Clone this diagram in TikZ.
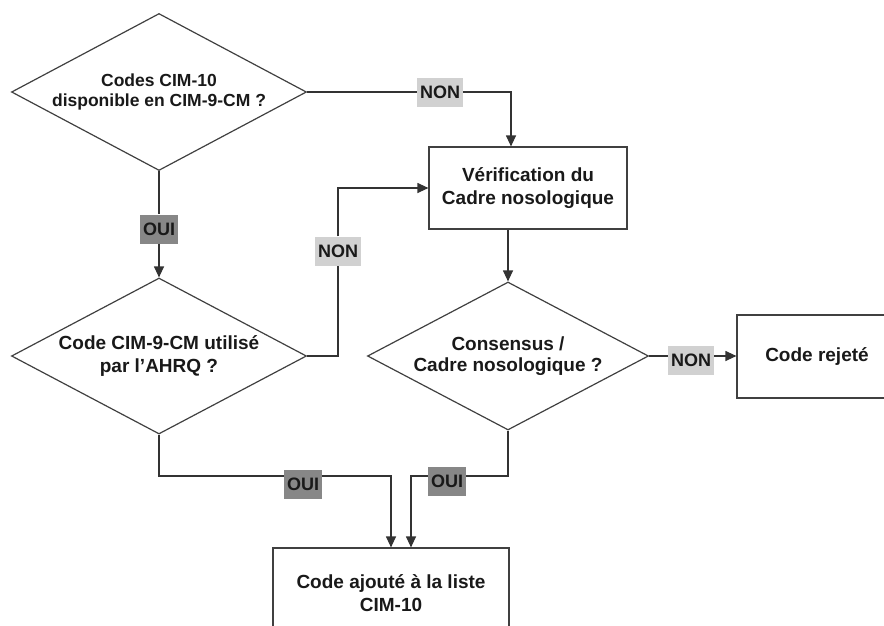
\documentclass[tikz,border=0pt]{standalone}
\usepackage{fontspec}
\setmainfont{Liberation Sans}
\usetikzlibrary{shapes.geometric,arrows.meta}

\begin{document}
\begin{tikzpicture}[x=1pt,y=-1pt]
                        \tikzstyle{every node}=[font=\bfseries\fontsize{19}{22.5}\selectfont, text=black!90]
                        \tikzstyle{decision}=[diamond, draw=black!75, line width=1.2pt, inner sep=0pt, align=center]
                        \tikzstyle{block}=[rectangle, draw=black!75, line width=1.2pt, align=center]
                        \tikzstyle{non}=[fill=black!18, font=\bfseries\fontsize{18}{20}\selectfont, inner xsep=3pt, minimum height=29pt]
                        \tikzstyle{oui}=[fill=black!47, font=\bfseries\fontsize{18}{20}\selectfont, inner xsep=3pt, minimum height=29pt]
                        \tikzstyle{conn}=[draw=black!80, line width=1.2pt]
                        \tikzstyle{arr}=[conn, -{Triangle[length=11pt,width=10pt]}]
                        \clip (0,0) rectangle (884,625);
                        \node[decision, aspect=1.88, minimum width=295pt, minimum height=157pt, font=\bfseries\fontsize{17.5}{19.5}\selectfont] (q1) at (159,92) {Codes CIM-10\\disponible en CIM-9-CM ?};
                        \node[decision, aspect=1.88, minimum width=295pt, minimum height=156pt] (q2) at (159,356) {Code CIM-9-CM utilisé\\par l'AHRQ ?};
                        \node[decision, aspect=1.9, minimum width=281pt, minimum height=148pt, font=\bfseries\fontsize{19}{21}\selectfont] (q3) at (508,356) {Consensus /\\Cadre nosologique ?};
                        \node[block, minimum width=198pt, minimum height=82pt] (verif) at (528,188) {Vérification du\\Cadre nosologique};
                        \node[block, minimum width=160pt, minimum height=83pt] (rejet) at (817,356.5) {Code rejeté};
                        \node[block, minimum width=236pt, minimum height=90pt] (ajout) at (391,593) {Code ajouté à la liste\\CIM-10};
                        \node[non] (non1) at (440,92) {NON};
                        \node[oui] (oui1) at (159,229) {OUI};
                        \node[non] (non2) at (338,251) {NON};
                        \node[non] (non3) at (691,360) {NON};
                        \node[oui] (oui2) at (303,484) {OUI};
                        \node[oui] (oui3) at (447,481) {OUI};
                        \coordinate (j1) at (159,476);
                        \coordinate (j2) at (508,476);
                        \draw[conn] (q1.east) -- (non1.west);
                        \draw[arr] (non1.east) -| ([xshift=-17pt]verif.north);
                        \draw[conn] (q1.south) -- (oui1.north);
                        \draw[arr] (oui1.south) -- (q2.north);
                        \draw[conn] (q2.east) -| (non2.south);
                        \draw[arr] (non2.north) |- (verif.west);
                        \draw[arr] (verif.south -| q3.north) -- (q3.north);
                        \draw[conn] (q3.east) -- (q3.east -| non3.west);
                        \draw[arr] (q3.east -| non3.east) -- (q3.east -| rejet.west);
                        \draw[conn] (q2.south) -- (j1) -- (j1 -| oui2.west);
                        \draw[arr] (j1 -| oui2.east) -| (ajout.north);
                        \draw[conn] (q3.south) -- (j2) -- (j2 -| oui3.east);
                        \draw[arr] (j2 -| oui3.west) -| ([xshift=20pt]ajout.north);
                    \end{tikzpicture}
\end{document}
